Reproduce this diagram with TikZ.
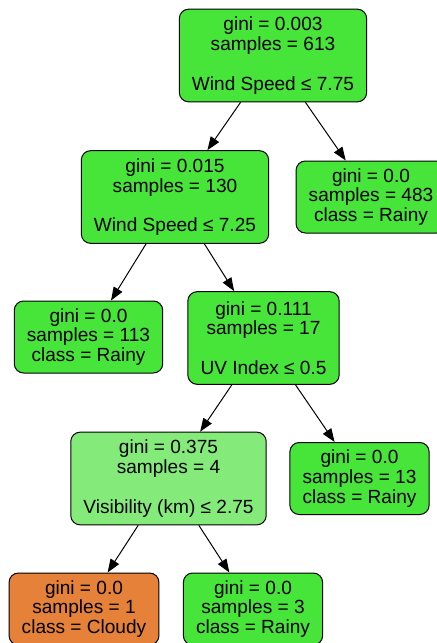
\documentclass[tikz,border=0pt]{standalone}
\usepackage{fontspec}
\setmainfont{Liberation Sans}
\usetikzlibrary{arrows.meta}
\definecolor{rainy}{HTML}{47E539}
\definecolor{rainylight}{HTML}{84EB7B}
\definecolor{cloudy}{HTML}{E58139}

\begin{document}
\begin{tikzpicture}[x=0.75pt, y=-0.75pt,
        box/.style={draw, rounded corners=7pt, line width=0.75pt, align=center,
            inner xsep=9.5pt, font=\fontsize{14.3}{14.8}\selectfont},
        split/.style={box, minimum height=69.5pt},
        leaf/.style={box, minimum height=54pt},
        branch/.style={-{Triangle[length=10pt,width=7.5pt]}, line width=0.75pt}]
        \useasboundingbox (0,0) rectangle (436,643);
        %nodi di split
        \node[split, fill=rainy] (root) at (273,55.5) {gini = 0.003\\samples = 613\\[14.8pt]Wind Speed ≤ 7.75};
        \node[split, fill=rainy] (wind) at (175,197) {gini = 0.015\\samples = 130\\[14.8pt]Wind Speed ≤ 7.25};
        \node[split, fill=rainy] (uv) at (263.5,338) {gini = 0.111\\samples = 17\\[14.8pt]UV Index ≤ 0.5};
        \node[split, fill=rainylight] (vis) at (168.5,478.5) {gini = 0.375\\samples = 4\\[14.8pt]Visibility (km) ≤ 2.75};
        %foglie
        \node[leaf, fill=rainy] (leafA) at (371,197) {gini = 0.0\\samples = 483\\class = Rainy};
        \node[leaf, fill=rainy] (leafB) at (88.5,337) {gini = 0.0\\samples = 113\\class = Rainy};
        \node[leaf, fill=rainy] (leafC) at (359.5,478.5) {gini = 0.0\\samples = 13\\class = Rainy};
        \node[leaf, fill=cloudy] (leafD) at (84,609) {gini = 0.0\\samples = 1\\class = Cloudy};
        \node[leaf, fill=rainy] (leafE) at (253,609) {gini = 0.0\\samples = 3\\class = Rainy};
        %frecce
        \draw[branch] (root) -- (wind);
        \draw[branch] (root) -- (leafA);
        \draw[branch] (wind) -- (leafB);
        \draw[branch] (wind) -- (uv);
        \draw[branch] (uv) -- (vis);
        \draw[branch] (uv) -- (leafC);
        \draw[branch] (vis) -- (leafD);
        \draw[branch] (vis) -- (leafE);
\end{tikzpicture}
\end{document}
